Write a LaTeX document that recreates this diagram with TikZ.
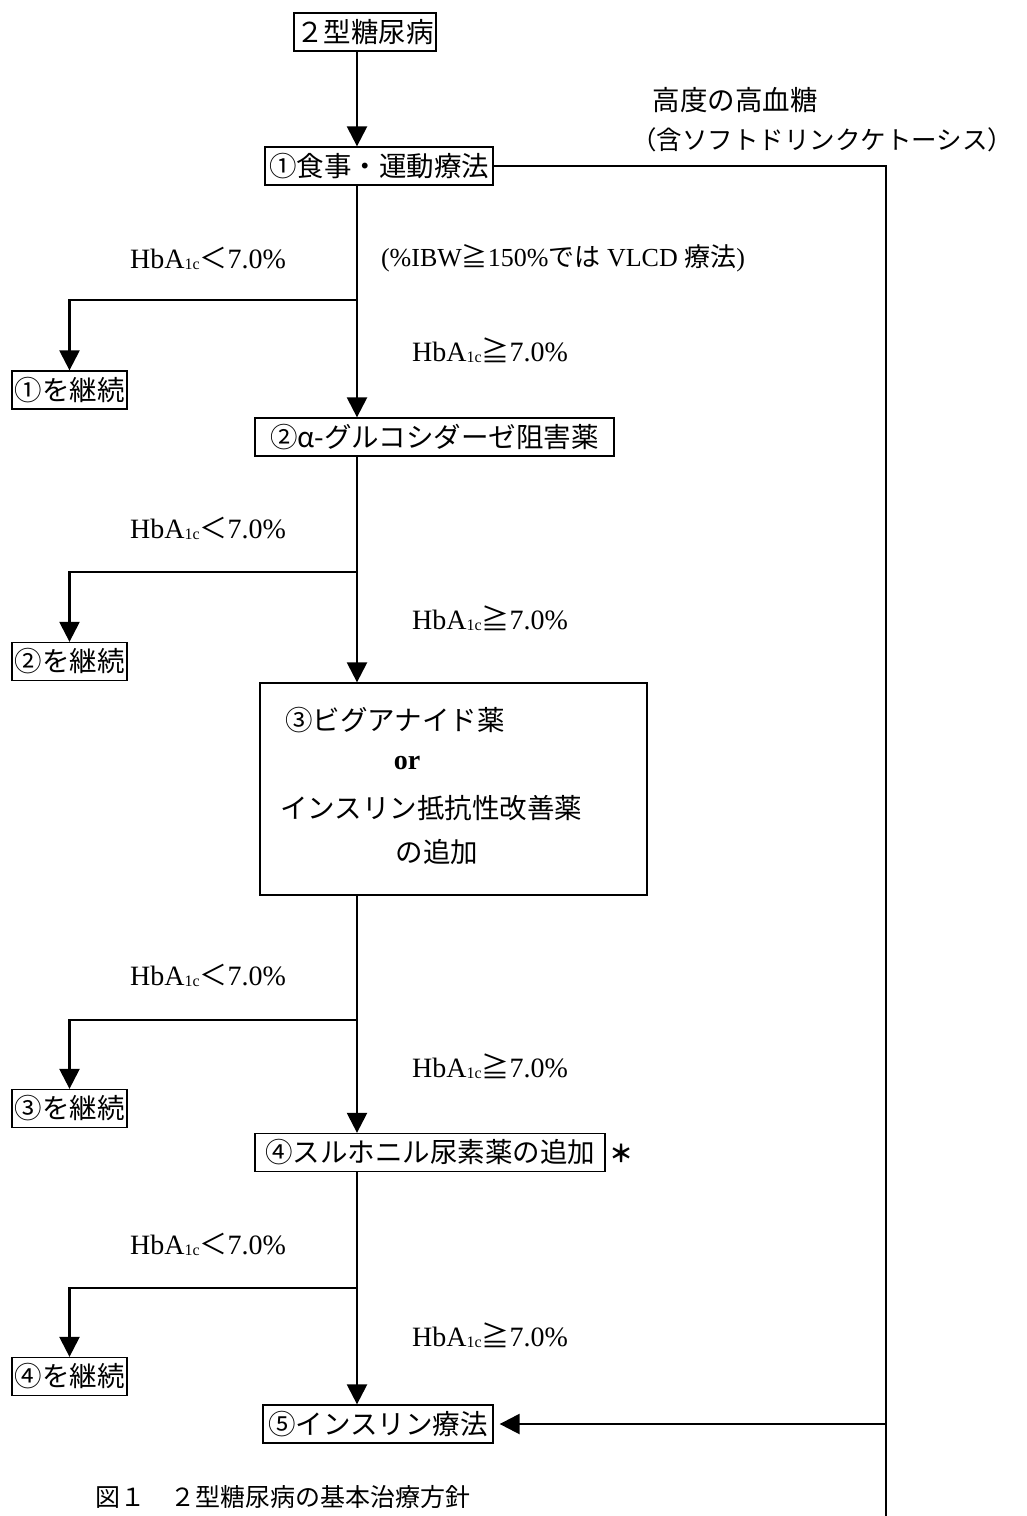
\documentclass[tikz,border=0pt]{standalone}
\usepackage{fontspec}
\setmainfont{Liberation Serif}
\newfontfamily\jp{Noto Sans CJK JP}
\usetikzlibrary{arrows.meta}
\newcommand{\hba}{HbA\raisebox{-1pt}{\fontsize{16}{16}\selectfont 1c}}
\tikzset{
  box/.style={draw, line width=1.3pt, inner sep=0pt, minimum height=38pt,
    font=\jp\fontsize{27.5}{30}\selectfont},
  conn/.style={line width=2.4pt},
  arr/.style={conn, -{Triangle[length=20pt,width=20pt]}},
  lbl/.style={inner sep=0pt, font=\fontsize{28}{30}\selectfont},
  jlbl/.style={inner sep=0pt, font=\jp\fontsize{27.5}{30}\selectfont},
}
\begin{document}
\begin{tikzpicture}[x=1pt,y=-1pt]
\useasboundingbox (0,0) rectangle (1026,1516);
\fill[white] (0,0) rectangle (1026,1516);

% main column
\coordinate (X) at (357,0);

\node[box, minimum width=142pt] (n0) at (365,32) {２型糖尿病};
\node[box, minimum width=228pt] (n1) at (379,166) {①食事・運動療法};
\node[box, minimum width=115pt] (c1) at (69.5,390) {①を継続};
\node[box, minimum width=359pt] (n2) at (434.5,437) {②α-グルコシダーゼ阻害薬};
\node[box, minimum width=115pt] (c2) at (69.5,661.5) {②を継続};
\node[box, minimum width=387pt, minimum height=212pt] (n3) at (453.5,789) {};
\node[jlbl, anchor=west] (t31) at (285,720) {③ビグアナイド薬};
\node[lbl] (t32) at (407,763) {\textbf{or}};
\node[jlbl, anchor=west] (t33) at (280,808) {インスリン抵抗性改善薬};
\node[jlbl] (t34) at (437,852) {の追加};
\node[box, minimum width=350pt] (n4) at (430,1152.5) {④スルホニル尿素薬の追加};
\node[inner sep=0pt, font=\jp\bfseries\fontsize{24}{24}\selectfont] (ast) at (621,1153) {＊};
\node[box, minimum width=115pt] (c3) at (69.5,1108.5) {③を継続};
\node[box, minimum width=115pt] (c4) at (69.5,1376.5) {④を継続};
\node[box, minimum width=230pt] (n5) at (378,1424) {⑤インスリン療法};

% labels
\node[lbl] (lo1) at (208,258) {\hba{\jp ＜}7.0\%};
\node[lbl] (lo2) at (208,528) {\hba{\jp ＜}7.0\%};
\node[lbl] (lo3) at (208,975) {\hba{\jp ＜}7.0\%};
\node[lbl] (lo4) at (208,1244) {\hba{\jp ＜}7.0\%};
\node[lbl] (hi1) at (490,350) {\hba{\jp ≧}7.0\%};
\node[lbl] (hi2) at (490,618) {\hba{\jp ≧}7.0\%};
\node[lbl] (hi3) at (490,1066) {\hba{\jp ≧}7.0\%};
\node[lbl] (hi4) at (490,1335) {\hba{\jp ≧}7.0\%};
\node[inner sep=0pt, font=\fontsize{26}{30}\selectfont] (vlcd) at (563,258) {(\%IBW{\jp ≧}150\%{\jp では} VLCD {\jp 療法})};
\node[jlbl] (hg1) at (735,100) {高度の高血糖};
\node[inner sep=0pt, font=\jp\fontsize{25.5}{30}\selectfont] (hg2) at (822,140) {（含ソフトドリンクケトーシス）};
\node[inner sep=0pt, font=\jp\fontsize{25}{25}\selectfont, anchor=north west] (cap) at (95,1485) {図１　２型糖尿病の基本治療方針};

% branch points
\coordinate (b1) at (357,300);
\coordinate (b2) at (357,572);
\coordinate (b3) at (357,1020);
\coordinate (b4) at (357,1288);
\coordinate (R1) at (886,166);
\coordinate (R2) at (886,1424);
\coordinate (R3) at (886,1516);

% connectors
\draw[arr] (n0.south -| X) -- (n1.north -| X);
\draw[arr] (n1.south -| X) -- (n2.north -| X);
\draw[arr] (b1) -| (c1.north);
\draw[arr] (n2.south -| X) -- (n3.north -| X);
\draw[arr] (b2) -| (c2.north);
\draw[arr] (n3.south -| X) -- (n4.north -| X);
\draw[arr] (b3) -| (c3.north);
\draw[arr] (n4.south -| X) -- (n5.north -| X);
\draw[arr] (b4) -| (c4.north);
\draw[conn] (n1.east) -- (R1) -- (R3);
\draw[arr] (R2) -- ([xshift=6pt]n5.east);
\end{tikzpicture}
\end{document}
